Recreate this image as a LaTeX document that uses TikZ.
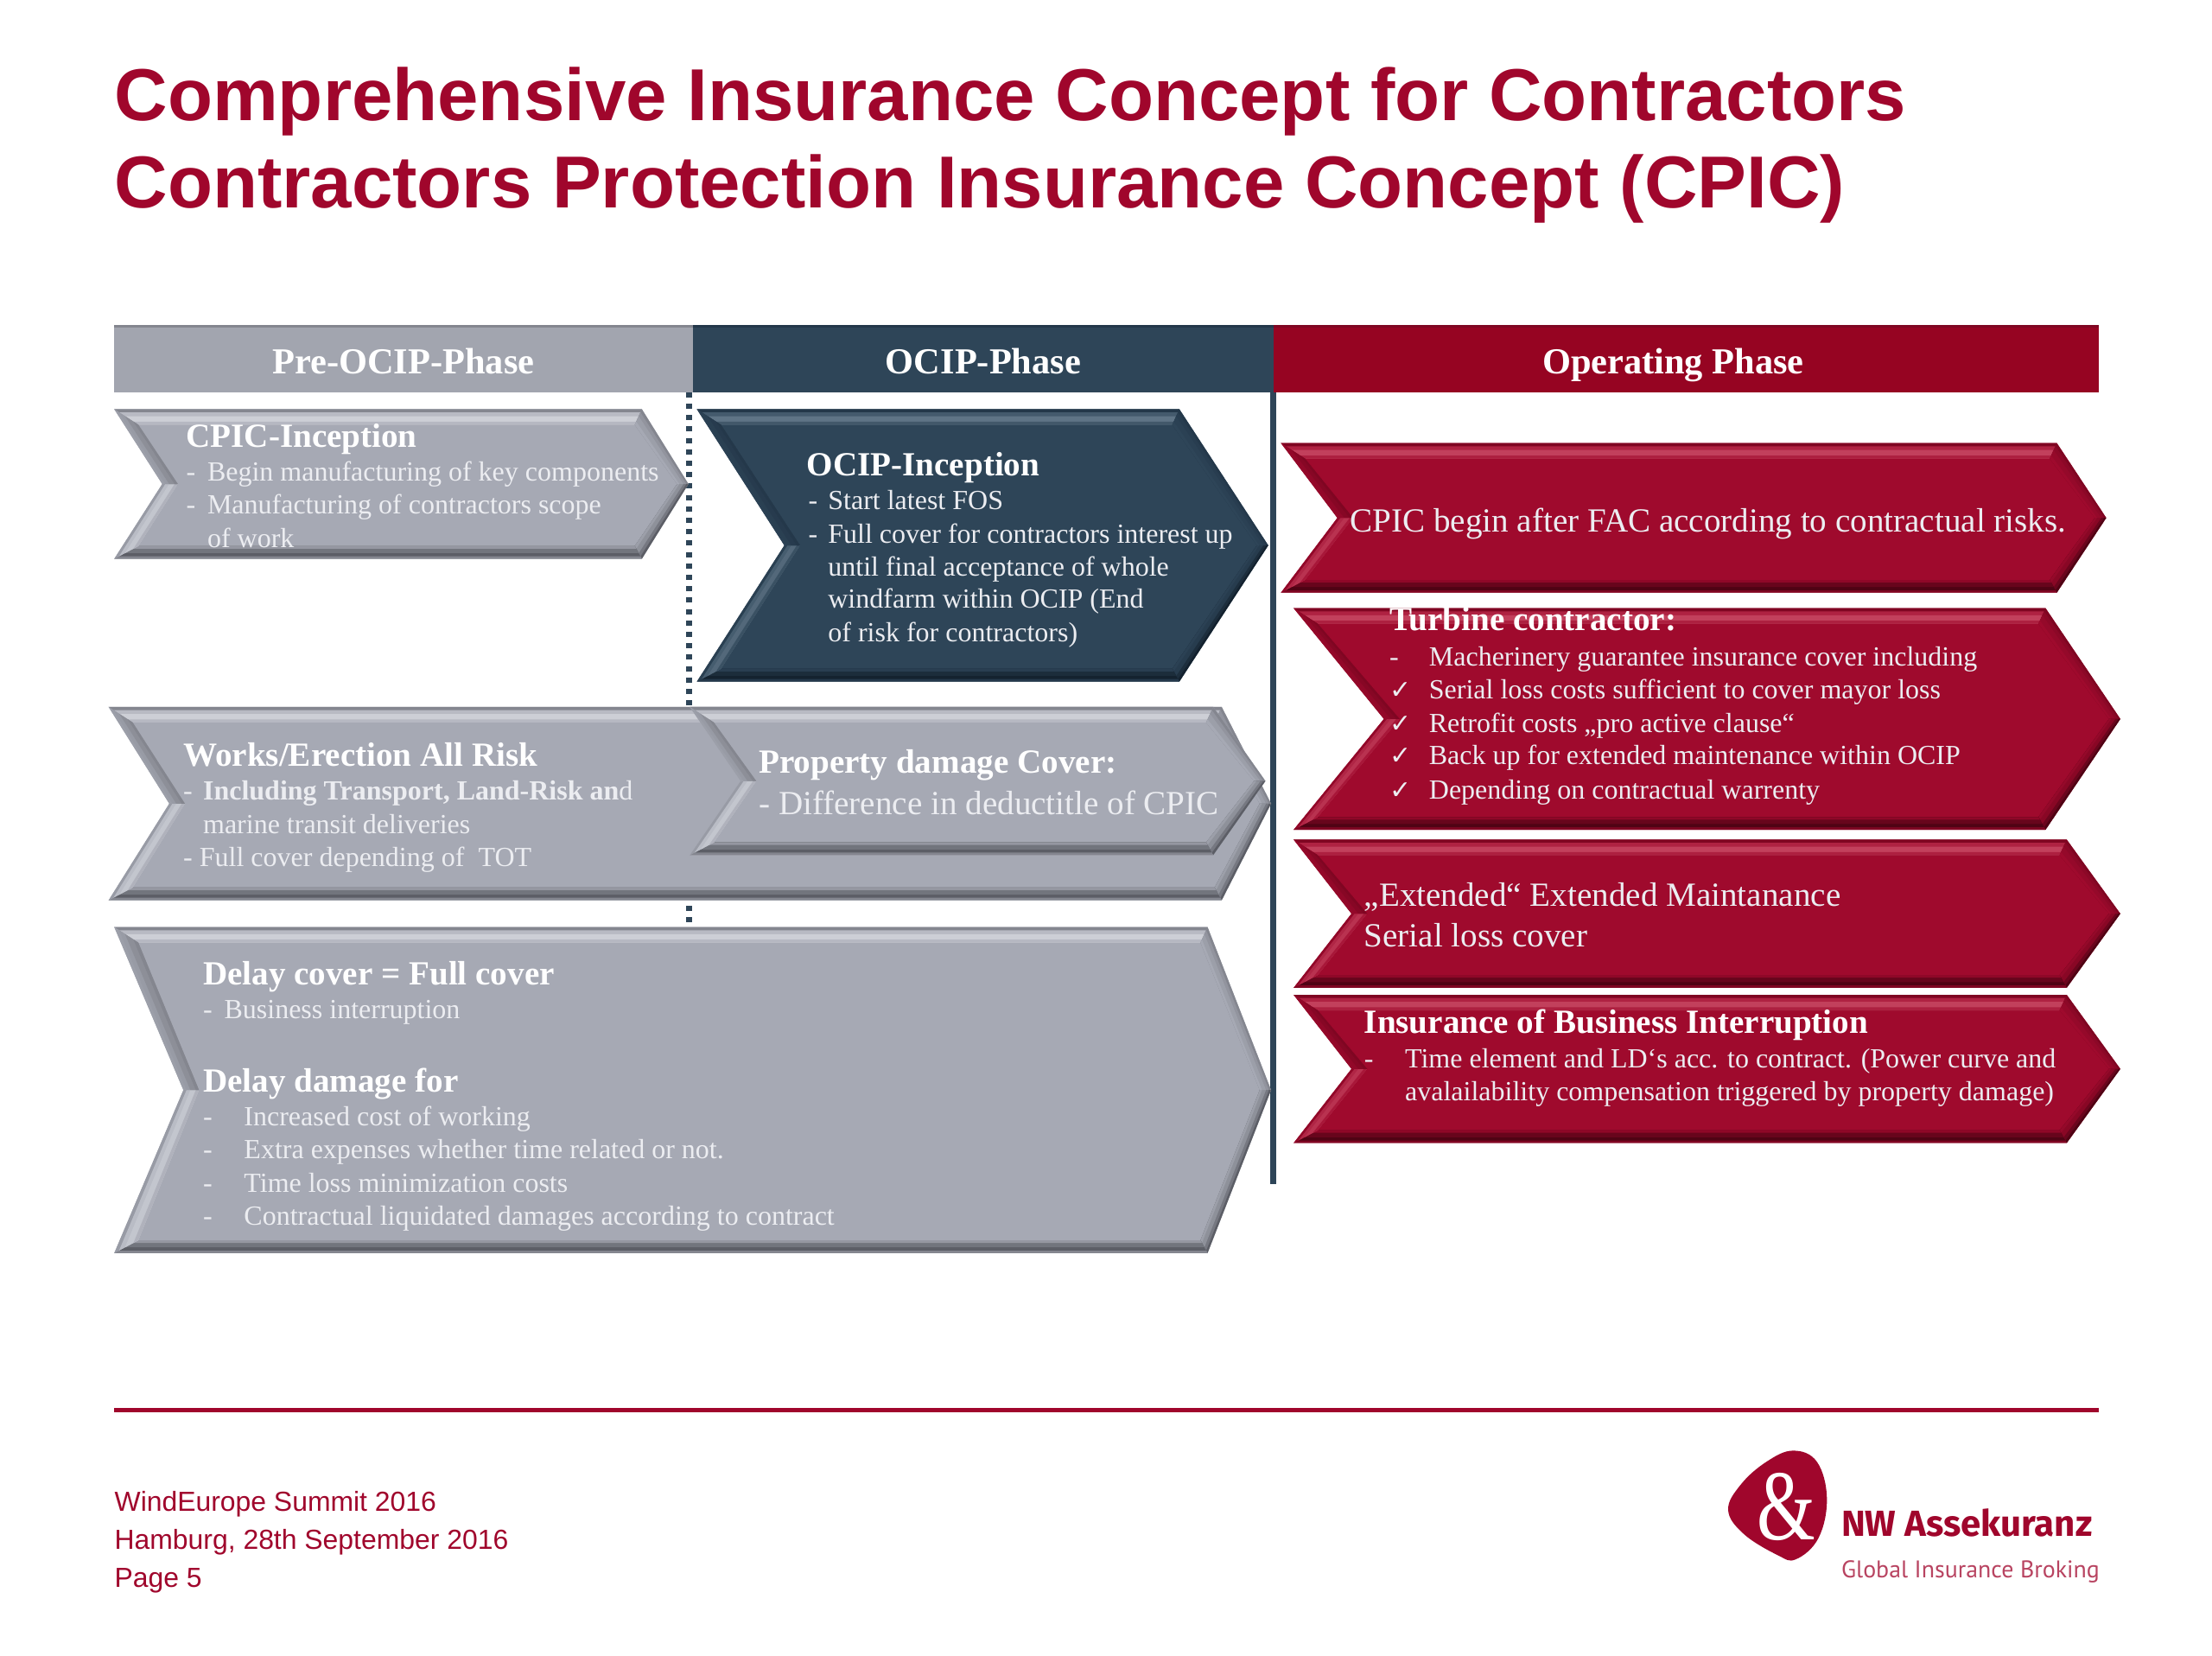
\documentclass[tikz,border=0pt]{standalone}
\usepackage{fontspec}
\usetikzlibrary{calc}
\setmainfont{Liberation Serif}
\newfontfamily\arial{Liberation Sans}
\newfontfamily\dejavu{DejaVu Sans}
\newfontfamily\logofont{Fira Sans}
\newfontfamily\logosmall{PT Sans}
\definecolor{titlered}{HTML}{A0062C}
\definecolor{grybase}{HTML}{A6A9B4}
\definecolor{grylight}{HTML}{CDCFD6}
\definecolor{grymid}{HTML}{84868F}
\definecolor{grydark}{HTML}{5C5E66}
\definecolor{navbase}{HTML}{2E4558}
\definecolor{navlight}{HTML}{5F7486}
\definecolor{navmid}{HTML}{24384A}
\definecolor{navdark}{HTML}{14222F}
\definecolor{redbase}{HTML}{9F0A2D}
\definecolor{redlight}{HTML}{C2405C}
\definecolor{redmid}{HTML}{7F0622}
\definecolor{reddark}{HTML}{4F0314}
\definecolor{hdrgrey}{HTML}{A2A5AF}
\definecolor{hdrred}{HTML}{960422}
\definecolor{softwhite}{HTML}{ECEDF1}
\newcounter{tl}
% one bevel facet: outer A,B, inner IB,IA, four colours from outside to inside
\newcommand{\facet}[8]{%
  \fill[#5] (#1)--(#2)--(#3)--(#4)--cycle;
  \fill[#6] ($(#1)!.2!(#4)$)--($(#2)!.2!(#3)$)--(#3)--(#4)--cycle;
  \fill[#7] ($(#1)!.45!(#4)$)--($(#2)!.45!(#3)$)--(#3)--(#4)--cycle;
  \fill[#8] ($(#1)!.8!(#4)$)--($(#2)!.8!(#3)$)--(#3)--(#4)--cycle;
}
% left, top-right x, tip x, notch x, top, bottom, palette
\newcommand{\chev}[7]{%
  \coordinate (oTL) at (#1,#5);
  \coordinate (oTR) at (#2,#5);
  \coordinate (oTip) at (#3,{(#5+#6)/2});
  \coordinate (oBR) at (#2,#6);
  \coordinate (oBL) at (#1,#6);
  \coordinate (oN) at (#4,{(#5+#6)/2});
  \coordinate (iTL) at ({#1+17},{#5+11});
  \coordinate (iTR) at ({#2-5},{#5+11});
  \coordinate (iTip) at ({#3-8},{(#5+#6)/2});
  \coordinate (iBR) at ({#2-5},{#6-9});
  \coordinate (iBL) at ({#1+17},{#6-9});
  \coordinate (iN) at ({#4+11},{(#5+#6)/2});
  \fill[#7base] (oTL)--(oTR)--(oTip)--(oBR)--(oBL)--(oN)--cycle;
  \facet{oTL}{oTR}{iTR}{iTL}{#7mid}{#7light!45!#7base}{#7light}{#7light!40!#7base}
  \facet{oTR}{oTip}{iTip}{iTR}{#7mid}{#7mid!60!#7base}{#7mid!30!#7base}{#7base}
  \facet{oTip}{oBR}{iBR}{iTip}{#7dark}{#7dark!65!#7base}{#7mid!70!#7base}{#7mid!30!#7base}
  \facet{oBR}{oBL}{iBL}{iBR}{#7mid}{#7dark}{#7dark!70!#7base}{#7mid!50!#7base}
  \facet{oBL}{oN}{iN}{iBL}{#7mid!40!#7base}{#7light!50!#7base}{#7light!75!#7base}{#7light!25!#7base}
  \facet{oN}{oTL}{iTL}{iN}{#7mid!30!#7base}{#7mid!40!#7base}{#7mid!75!#7base}{#7mid}
}
\newcommand{\lineat}[4][]{\stepcounter{tl}\node[txt,#1] (t\arabic{tl}) at (#2,#3) {#4};}
\newcommand{\ck}{{\dejavu\fontsize{15}{15}\selectfont ✓}}
\tikzset{
  txt/.style={anchor=base west,inner sep=0pt,outer sep=0pt,text=softwhite,font=\fontsize{16}{19}\selectfont},
  head/.style={font=\fontsize{19.55}{22}\selectfont\bfseries,text=white},
  big/.style={font=\fontsize{19.55}{22}\selectfont},
  hdr/.style={anchor=base,inner sep=0pt,text=white,font=\fontsize{21.2}{24}\selectfont\bfseries},
  foot/.style={anchor=base west,inner sep=0pt,text=titlered,font=\arial\fontsize{15.95}{18}\selectfont},
  ttl/.style={anchor=base west,inner sep=0pt,text=titlered,font=\arial\bfseries\fontsize{42.6}{48}\selectfont},
}
\begin{document}
\begin{tikzpicture}[x=0.81633pt,y=-0.81633pt]
\useasboundingbox (0,0) rectangle (1568,1173);
\node[ttl] (title1) at (81,85.5) {Comprehensive Insurance Concept for Contractors};
\node[ttl] (title2) at (81,147) {Contractors Protection Insurance Concept (CPIC)};
% header bars
\fill[hdrgrey] (81,230) rectangle (491,278);
\fill[navbase] (491,230) rectangle (903,278);
\fill[hdrred] (903,230) rectangle (1488,278);
\fill[grymid] (81,230) rectangle (491,232);
\fill[navmid] (491,230) rectangle (903,232);
\fill[redmid] (903,230) rectangle (1488,232);
\node[hdr] (h1) at (286,265) {Pre-OCIP-Phase};
\node[hdr] (h2) at (697,265) {OCIP-Phase};
\node[hdr] (h3) at (1186,265) {Operating Phase};
% phase separators
\coordinate (dotA) at (488.5,278);
\coordinate (dotB) at (488.5,657);
\coordinate (solA) at (902.5,278);
\coordinate (solB) at (902.5,839);
\draw[navbase,line width=3.4pt,dash pattern=on 3pt off 3.6pt] (dotA)--(dotB);
\draw[navbase,line width=3.2pt] (solA)--(solB);
% chevrons
\chev{81}{455}{488}{115}{290}{396}{gry}
\chev{494}{836}{899}{556}{290}{483}{nav}
\chev{77}{866}{901}{120}{501}{638}{gry}
\chev{489}{860}{897}{525}{501}{606}{gry}
\chev{81}{856}{901}{130}{657}{888}{gry}
\chev{908}{1458}{1493}{948}{314}{420}{red}
\chev{917}{1450}{1503}{981}{431}{588}{red}
\chev{917}{1465}{1503}{958}{595}{700}{red}
\chev{917}{1465}{1503}{958}{705}{810}{red}
% CPIC inception
\lineat[head]{132}{317}{CPIC-Inception}
\lineat{132}{341}{-}\lineat{147}{341}{Begin manufacturing of key components}
\lineat{132}{364}{-}\lineat{147}{364}{Manufacturing of contractors scope}
\lineat{147}{388}{of work}
% OCIP inception
\lineat[head]{572}{337}{OCIP-Inception}
\lineat{573}{361}{-}\lineat{587}{361}{Start latest FOS}
\lineat{573}{385}{-}\lineat{587}{385}{Full cover for contractors interest up}
\lineat{587}{408}{until final acceptance of whole}
\lineat{587}{431}{windfarm within OCIP (End}
\lineat{587}{455}{of risk for contractors)}
% Works
\lineat[head]{130}{543}{Works/Erection All Risk}
\lineat{130}{567}{-}\lineat{144}{567}{\textbf{Including Transport, Land-Risk an}d}
\lineat{144}{591}{marine transit deliveries}
\lineat{130}{614}{- Full cover depending of\ \ TOT}
% Property
\lineat[head]{538}{548}{Property damage Cover:}
\lineat[big]{538}{577}{- Difference in deductitle of CPIC}
% Delay
\lineat[head]{144}{698}{Delay cover = Full cover}
\lineat{144}{722}{-}\lineat{159}{722}{Business interruption}
\lineat[head]{144}{774}{Delay damage for}
\lineat{144}{798}{-}\lineat{173}{798}{Increased cost of working}
\lineat{144}{821}{-}\lineat{173}{821}{Extra expenses whether time related or not.}
\lineat{144}{845}{-}\lineat{173}{845}{Time loss minimization costs}
\lineat{144}{868}{-}\lineat{173}{868}{Contractual liquidated damages according to contract}
% Red column
\lineat[big]{957}{377}{CPIC begin after FAC according to contractual risks.}
\lineat[head]{985}{447}{Turbine contractor:}
\lineat{985}{472}{-}\lineat{1013}{472}{Macherinery guarantee insurance cover including}
\lineat{985}{495}{\ck}\lineat{1013}{495}{Serial loss costs sufficient to cover mayor loss}
\lineat{985}{519}{\ck}\lineat{1013}{519}{Retrofit costs „pro active clause“}
\lineat{985}{542}{\ck}\lineat{1013}{542}{Back up for extended maintenance within OCIP}
\lineat{985}{566}{\ck}\lineat{1013}{566}{Depending on contractual warrenty}
\lineat[big]{967}{642}{„Extended“ Extended Maintanance}
\lineat[big]{967}{671}{Serial loss cover}
\lineat[head]{967}{732}{Insurance of Business Interruption}
\lineat{967}{757}{-}\lineat{996}{757}{Time element and LD‘s acc. to contract. (Power curve and}
\lineat{996}{780}{avalailability compensation triggered by property damage)}
% footer
\coordinate (ruleA) at (81,999.5);
\coordinate (ruleB) at (1488,999.5);
\draw[titlered,line width=2.4pt] (ruleA)--(ruleB);
\node[foot] (f1) at (81,1071) {WindEurope Summit 2016};
\node[foot] (f2) at (81,1098) {Hamburg, 28th September 2016};
\node[foot] (f3) at (81,1125) {Page 5};
% logo
\fill[titlered] plot[smooth cycle,tension=.65] coordinates {(1271,1028) (1288,1036) (1295,1062) (1289,1090) (1273,1105) (1260,1102) (1236,1087) (1225,1070) (1234,1052) (1252,1036)};
\node[inner sep=0pt,text=white,font=\fontsize{58}{60}\selectfont] (amp) at (1266,1068) {\scalebox{.75}[1]{\&}};
\node[anchor=base west,inner sep=0pt,text=titlered,font=\logofont\fontsize{21}{24}\selectfont\bfseries] (logo1) at (1305,1089) {NW Assekuranz};
\node[anchor=base west,inner sep=0pt,text=titlered!75,font=\logosmall\fontsize{13.95}{18}\selectfont] (logo2) at (1305,1118) {Global Insurance Broking};
\end{tikzpicture}
\end{document}
